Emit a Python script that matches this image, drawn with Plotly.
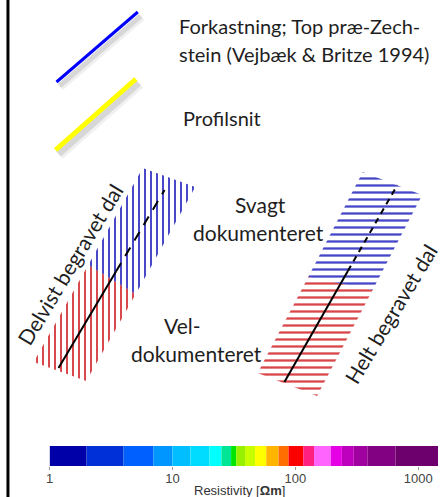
import plotly.graph_objects as go

# ---------------- data ----------------
# Resistivity colour-scale bins (Ohm-m) and their colours
RES_EDGES = [1, 2, 4, 7, 10, 14, 20, 25, 30, 33, 39, 47, 58, 73, 88, 116, 142, 195, 239, 299, 388, 653, 1450]
RES_COLORS = ["#0000A8", "#0030D8", "#0060FF", "#0096FF", "#00BEFF", "#00DCFF", "#00FFFF", "#00E696",
              "#00E600", "#96F000", "#C8FF00", "#FFFF00", "#FFB400", "#FF6E00", "#FF0000", "#FF2080",
              "#FF64FF", "#E600E6", "#BE00BE", "#A000A0", "#820082", "#6E006E"]
RES_TICKS = [1, 10, 100, 1000]
RES_TICKTEXT = ["1", "10", "100", "1000"]

# legend symbol lines (schematic coordinates)
FAULT_X = [53, 135]
FAULT_Y = [82, 12]
PROFILE_X = [52, 133]
PROFILE_Y = [150, 79]

# left valley band (vertical hatching): red part / blue part
LEFT_RED_X = [30, 85, 133, 83]
LEFT_RED_Y = [362, 265, 294, 381]
LEFT_BLUE_X = [85, 140, 193, 133]
LEFT_BLUE_Y = [265, 168, 187, 294]
LEFT_AXIS_SOLID_X = [55, 113]
LEFT_AXIS_SOLID_Y = [368, 271.5]
LEFT_AXIS_DASH_X = [113, 162]
LEFT_AXIS_DASH_Y = [271.5, 190]

# right valley band (horizontal hatching)
RIGHT_RED_X = [256, 307, 372, 316]
RIGHT_RED_Y = [373, 277, 290, 396]
RIGHT_BLUE_X = [307, 362, 422, 372]
RIGHT_BLUE_Y = [277, 172, 195, 290]
RIGHT_AXIS_SOLID_X = [283, 347]
RIGHT_AXIS_SOLID_Y = [382, 271]
RIGHT_AXIS_DASH_X = [347, 397]
RIGHT_AXIS_DASH_Y = [271, 185]

W, H = 442, 497
RED = "#D9464A"
BLUE = "#4646C8"
TXT = "#1E1E1E"
FONT = "Lato"

fig = go.Figure()

# --- legend lines with soft shadow ---
for xs, ys, col, wd in [(FAULT_X, FAULT_Y, "#0000FF", 3), (PROFILE_X, PROFILE_Y, "#FFFF00", 5)]:
    for off, op, extra in [(4, 0.06, 5), (3, 0.10, 2)]:
        fig.add_trace(go.Scatter(x=[v + off for v in xs], y=[v + off + 1 for v in ys], mode="lines",
                                 line=dict(color="rgba(0,0,0,%.2f)" % op, width=wd + extra),
                                 hoverinfo="skip", showlegend=False))
    fig.add_trace(go.Scatter(x=xs, y=ys, mode="lines", line=dict(color=col, width=wd),
                             hoverinfo="skip", showlegend=False))

# --- hatched bands ---
def band(xs, ys, col, shape, size):
    fig.add_trace(go.Scatter(x=xs + xs[:1], y=ys + ys[:1], mode="lines", fill="toself",
                             line=dict(width=0, color="rgba(0,0,0,0)"),
                             fillcolor="rgba(0,0,0,0)",
                             fillpattern=dict(shape=shape, size=size, solidity=0.33,
                                              fgcolor=col, bgcolor="rgba(0,0,0,0)", fillmode="replace"),
                             hoverinfo="skip", showlegend=False))

band(LEFT_RED_X, LEFT_RED_Y, RED, "|", 6)
band(LEFT_BLUE_X, LEFT_BLUE_Y, BLUE, "|", 6)
band(RIGHT_RED_X, RIGHT_RED_Y, RED, "-", 7)
band(RIGHT_BLUE_X, RIGHT_BLUE_Y, BLUE, "-", 7)

for xs, ys, dash in [(LEFT_AXIS_SOLID_X, LEFT_AXIS_SOLID_Y, "solid"),
                     (LEFT_AXIS_DASH_X, LEFT_AXIS_DASH_Y, "10px,8px"),
                     (RIGHT_AXIS_SOLID_X, RIGHT_AXIS_SOLID_Y, "solid"),
                     (RIGHT_AXIS_DASH_X, RIGHT_AXIS_DASH_Y, "6px,5px")]:
    fig.add_trace(go.Scatter(x=xs, y=ys, mode="lines", line=dict(color="black", width=2, dash=dash),
                             hoverinfo="skip", showlegend=False))

# --- colour scale bar ---
lefts = RES_EDGES[:-1]
widths = [b - a for a, b in zip(RES_EDGES[:-1], RES_EDGES[1:])]
fig.add_trace(go.Bar(x=widths, base=lefts, y=[0] * len(widths), orientation="h", width=1,
                     marker=dict(color=RES_COLORS, line=dict(width=0)),
                     xaxis="x2", yaxis="y2", hoverinfo="skip", showlegend=False))

# --- texts ---
ann = []
def txt(x, y, s, size=20, angle=0, xanchor="left", family=FONT, color=TXT):
    ann.append(dict(x=x, y=y, xref="x", yref="y", text=s, showarrow=False, textangle=angle,
                    xanchor=xanchor, yanchor="middle", font=dict(family=family, size=size, color=color)))

txt(175, 26, "Forkastning; Top præ-Zech-")
txt(175, 54, "stein (Vejbæk & Britze 1994)")
txt(179, 118, "Profilsnit")
txt(259, 204, "Svagt", size=21, xanchor="center")
txt(257, 232, "dokumenteret", size=21, xanchor="center")
txt(180, 325, "Vel-", size=21, xanchor="center")
txt(194, 353, "dokumenteret", size=21, xanchor="center")
txt(66, 264, "Delvist begravet dal", size=21, angle=-59, xanchor="center")
txt(390, 313, "Helt begravet dal", size=21, angle=-59, xanchor="center")
txt(238, 490, "Resistivity [<b>Ωm</b>]", size=13, xanchor="center", family="Liberation Sans", color="#333333")

fig.update_layout(
    width=W, height=H, margin=dict(l=0, r=0, t=0, b=0),
    paper_bgcolor="white", plot_bgcolor="rgba(0,0,0,0)",
    barmode="overlay", annotations=ann,
    xaxis=dict(range=[0, W], domain=[0, 1], visible=False, fixedrange=True),
    yaxis=dict(range=[H, 0], domain=[0, 1], visible=False, fixedrange=True),
    xaxis2=dict(type="log", range=[0, 3.1614], domain=[46 / W, 438 / W], anchor="y2",
                tickvals=RES_TICKS, ticktext=RES_TICKTEXT, ticks="outside", ticklen=3,
                ticklabelstandoff=-3,
                tickcolor="#9A9A9A", showgrid=False, zeroline=False, showline=False,
                tickfont=dict(family="Liberation Sans", size=13, color="#444444")),
    yaxis2=dict(range=[-0.5, 0.5], domain=[(H - 466) / H, (H - 446) / H], anchor="x2",
                visible=False, fixedrange=True),
    shapes=[dict(type="line", xref="x", yref="y", x0=4, x1=4, y0=0, y1=H,
                 line=dict(color="black", width=3))],
)

fig.write_html("out.html", post_script="document.body.style.margin='0';", config={"displayModeBar": False})
